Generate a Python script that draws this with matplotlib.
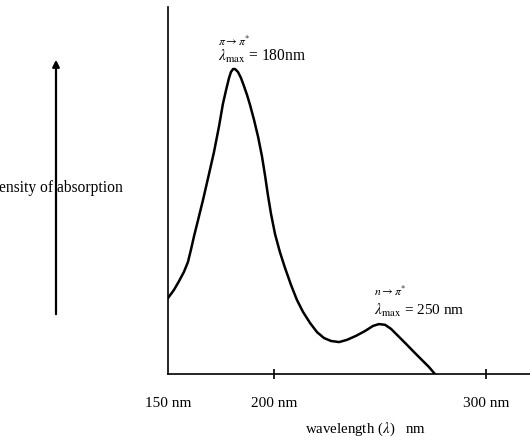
import matplotlib
matplotlib.use('Agg')
import matplotlib.pyplot as plt
from matplotlib.patches import FancyArrowPatch

plt.rcParams['font.family'] = ['Liberation Serif', 'DejaVu Serif']
plt.rcParams['mathtext.fontset'] = 'stix'

# espectro (nm, intensidade relativa 0-100)
comprimento = [150.0, 152.8, 155.2, 157.5, 159.4, 160.8, 162.3, 164.2, 166.5,
               168.9, 171.7, 174.1, 175.9, 177.4, 178.8, 179.7, 180.7, 181.6,
               183.0, 184.4, 185.8, 187.3, 188.7, 190.6, 192.5, 194.3, 195.8,
               197.2, 198.6, 200.5, 202.8, 205.2, 208.0, 210.8, 213.7, 217.0,
               220.3, 223.6, 226.9, 230.7, 234.4, 238.7, 242.9, 246.7, 249.5,
               252.4, 255.2, 258.5, 262.3, 266.0, 269.8, 273.1, 275.9]
intensidade = [20.7, 22.9, 25.3, 27.8, 30.5, 33.8, 37.6, 42.0, 47.4,
               53.4, 60.5, 67.6, 73.6, 77.4, 80.7, 82.3, 83.1, 83.1,
               82.3, 80.7, 78.5, 76.0, 73.3, 69.2, 64.6, 59.4, 54.0,
               48.5, 43.6, 38.1, 33.2, 28.9, 24.3, 20.2, 16.9, 13.9,
               11.4, 9.8, 9.0, 8.7, 9.3, 10.4, 11.7, 13.1, 13.6,
               13.4, 12.3, 10.4, 8.2, 6.0, 3.8, 1.9, 0.0]

ticks_x = [150, 200, 300]
labels_x = ['150 nm', '200 nm', '300 nm']

fig = plt.figure(figsize=(5.3, 4.37), dpi=100)
ax = fig.add_axes([168 / 530, 1 - 374 / 437, 1 - 168 / 530, 367 / 437])

ax.plot(comprimento, intensidade, color='black', lw=1.8,
        solid_joinstyle='round')

ax.set_xlim(150, 150 + 362 / 2.12)
ax.set_ylim(0, 100)

ax.spines['top'].set_visible(False)
ax.spines['right'].set_visible(False)
ax.spines['left'].set_linewidth(1.2)
ax.spines['bottom'].set_linewidth(1.2)

ax.set_yticks([])
ax.set_xticks(ticks_x)
ax.set_xticklabels(labels_x, fontsize=11)
ax.tick_params(axis='x', direction='inout', length=7, width=1.2, pad=13)
ax.xaxis.get_major_ticks()[0].tick1line.set_visible(False)

# anotações dos picos
ax.text(173.6, 90.5, r'$\pi \rightarrow \pi^{*}$', fontsize=8.5, va='center')
ax.text(173.6, 86.4, r'$\lambda_{\rm max}$ = 180nm', fontsize=11.2, va='center')
ax.text(247.2, 22.3, r'$n \rightarrow \pi^{*}$', fontsize=8.5, va='center')
ax.text(247.2, 17.4, r'$\lambda_{\rm max}$ = 250 nm', fontsize=11, va='center')

# rótulos (o da esquerda aparece cortado na figura original)
fig.text(365 / 530, 1 - 429 / 437, r'wavelength ($\lambda$)   nm', fontsize=10.7,
         ha='center', va='center')
fig.text(123 / 530, 1 - 188 / 437, 'ensity of absorption', fontsize=11.2,
         ha='right', va='center')

seta = FancyArrowPatch((56 / 530, 1 - 317 / 437), (56 / 530, 1 - 57 / 437),
                       transform=fig.transFigure, arrowstyle='-|>',
                       mutation_scale=10, color='black', lw=1.6)
fig.patches.append(seta)

fig.savefig('out.png', dpi=100)
